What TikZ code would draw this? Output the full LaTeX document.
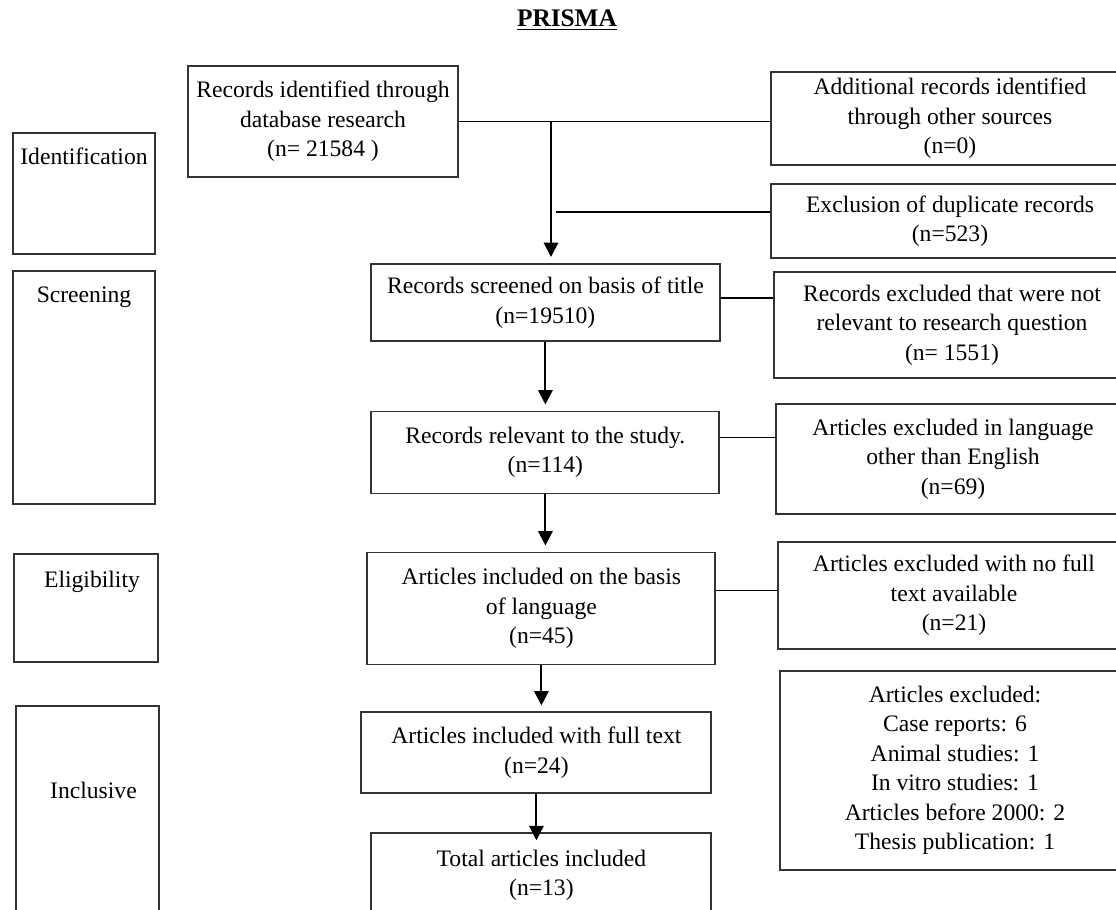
\documentclass[tikz,border=0pt]{standalone}
\usepackage{fontspec}
\setmainfont{Liberation Serif}
\usetikzlibrary{arrows.meta}
\tikzstyle{stagebox} = [rectangle, draw=black!80, line width=1.4pt, inner sep=0pt, anchor=north west]
\tikzstyle{studybox} = [rectangle, draw=black!80, line width=1.4pt, inner sep=2pt, text centered, align=center]
\tikzstyle{exclbox} = [rectangle, draw=black!80, line width=1.4pt, inner sep=2pt, text centered, align=center]
\tikzstyle{link} = [line width=1.4pt]
\tikzstyle{arrow} = [line width=1.4pt, -{Triangle[length=0.36cm,width=0.36cm]}, shorten >=0.15cm]

\begin{document}
\begin{tikzpicture}[node distance=3.75cm, font=\fontsize{16.8}{21}\selectfont]
\useasboundingbox (0,0) rectangle (27.9,-22.75);

\node (title) at (14.175,-0.5) {\fontsize{18}{22}\selectfont\bfseries\underline{PRISMA}};

\node (identification) [stagebox, minimum width=3.55cm, text height=0.8cm, text depth=2.225cm] at (0.3,-3.3) {Identification};
\node (screening) [stagebox, minimum width=3.55cm, text height=0.8cm, text depth=5.025cm] at (0.3,-6.75) {Screening};
\node (eligibility) [stagebox, minimum width=3.6cm, text height=0.85cm, text depth=1.85cm] at (0.325,-13.825) {\hspace*{0.3cm}Eligibility};
\node (inclusive) [stagebox, minimum width=3.575cm, text height=2.325cm, text depth=3.175cm] at (0.375,-17.625) {\hspace*{0.3cm}Inclusive};

\node (identified) [studybox, minimum width=6.75cm, minimum height=2.775cm] at (8.075,-3.0375) {Records identified through\\ database research\\ (n= 21584 )};
\node (screened) [studybox, below of=identified, xshift=5.56cm, yshift=-0.775cm, minimum width=8.725cm, minimum height=1.925cm] {Records screened on basis of title\\ (n=19510)};
\node (relevant) [studybox, below of=screened, minimum width=8.7cm, minimum height=2.05cm] {Records relevant to the study.\\ (n=114)};
\node (language) [studybox, below of=relevant, xshift=-0.1cm, yshift=-0.15cm, minimum width=8.7cm, minimum height=2.8cm] {Articles included on the basis\\ of language\\ (n=45)};
\node (fulltext) [studybox, below of=language, xshift=-0.125cm, yshift=0.14cm, minimum width=8.75cm, minimum height=2.025cm] {Articles included with full text\\ (n=24)};
\node (total) [studybox, below of=fulltext, xshift=0.125cm, yshift=0.69cm, minimum width=8.5cm, minimum height=2.1cm] {Total articles included\\ (n=13)};

\node (additional) [exclbox, minimum width=8.95cm, minimum height=2.325cm] at (23.75,-2.9625) {Additional records identified\\ through other sources\\ (n=0)};
\node (duplicates) [exclbox, minimum width=8.95cm, minimum height=1.85cm] at (23.75,-5.525) {Exclusion of duplicate records\\ (n=523)};
\node (notrelevant) [exclbox, minimum width=8.9cm, minimum height=2.65cm] at (23.8,-8.125) {Records excluded that were not\\ relevant to research question\\ (n= 1551)};
\node (otherlang) [exclbox, minimum width=8.85cm, minimum height=2.75cm] at (23.825,-11.475) {Articles excluded in language\\ other than English\\ (n=69)};
\node (nofulltext) [exclbox, minimum width=8.8cm, minimum height=2.675cm] at (23.85,-14.8875) {Articles excluded with no full\\ text available\\ (n=21)};
\node (reasons) [exclbox, minimum width=8.75cm, minimum height=4.975cm] at (23.875,-19.2625) {Articles excluded:\\ Case reports: 6\\ Animal studies: 1\\ In vitro studies: 1\\ Articles before 2000: 2\\ Thesis publication: 1};

\coordinate (merge) at (13.775,-3.0375);
\coordinate (dupstart) at (13.9,-5.3);

\draw [link] (identified.east) -- (identified.east -| additional.west);
\draw [arrow] (merge) -- (merge |- screened.north);
\draw [link] (dupstart) -- (dupstart -| duplicates.west);
\draw [link] ([yshift=0.11cm]screened.east) -- ([yshift=0.11cm]screened.east -| notrelevant.west);
\draw [link] ([yshift=0.375cm]relevant.east) -- ([yshift=0.375cm]relevant.east -| otherlang.west);
\draw [link] ([yshift=0.45cm]language.east) -- ([yshift=0.45cm]language.east -| nofulltext.west);
\draw [arrow] (screened.south) -- (screened.south |- relevant.north);
\draw [arrow] (relevant.south) -- (relevant.south |- language.north);
\draw [arrow] (language.south) -- (language.south |- fulltext.north);
\draw [arrow, shorten >=-0.2cm] (fulltext.south) -- (fulltext.south |- total.north);

\end{tikzpicture}
\end{document}
